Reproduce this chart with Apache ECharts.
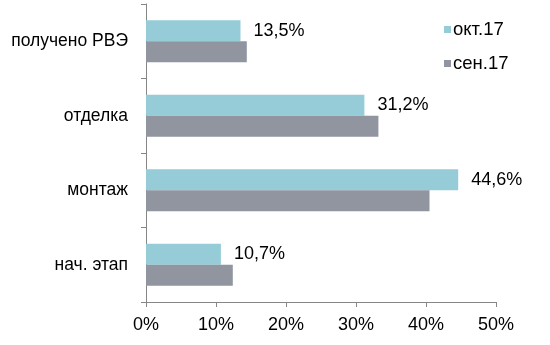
<!DOCTYPE html>
<html>
<head>
<meta charset="utf-8">
<script src="https://cdn.jsdelivr.net/npm/echarts@6/dist/echarts.min.js"></script>
<style>
  html, body { margin: 0; padding: 0; background: #ffffff; }
  #chart { width: 550px; height: 345px; }
</style>
</head>
<body>
<div id="chart"></div>
<script>
// Stage categories, top to bottom
const categories = ['получено РВЭ', 'отделка', 'монтаж', 'нач. этап'];
// Share of objects per stage, %
const octValues = [13.5, 31.2, 44.6, 10.7];
const sepValues = [14.4, 33.2, 40.5, 12.4];
const seriesNames = ['окт.17', 'сен.17'];
const xTicks = [0, 10, 20, 30, 40, 50];

const FONT = '"Liberation Sans", Arial, sans-serif';
const axisGray = '#868686';

const chart = echarts.init(document.getElementById('chart'), null, { renderer: 'canvas' });

chart.setOption({
  animation: false,
  backgroundColor: '#ffffff',
  textStyle: { fontFamily: FONT },
  grid: { left: 146, right: 54, top: 4, bottom: 43, containLabel: false },
  legend: {
    orient: 'vertical',
    left: 439,
    top: 15,
    itemWidth: 7,
    itemHeight: 7,
    itemGap: 15,
    icon: 'rect',
    textStyle: { fontSize: 18.5, color: '#000', fontFamily: FONT, padding: [0, 0, 0, -3] },
    data: seriesNames
  },
  xAxis: {
    type: 'value',
    min: xTicks[0],
    max: xTicks[xTicks.length - 1],
    interval: 10,
    splitLine: { show: false },
    axisLine: { show: true, lineStyle: { color: axisGray, width: 1 } },
    axisTick: { show: true, length: 5, lineStyle: { color: axisGray } },
    axisLabel: {
      fontSize: 18, color: '#000', fontFamily: FONT, margin: 14,
      formatter: v => v + '%'
    }
  },
  yAxis: {
    type: 'category',
    inverse: true,
    data: categories,
    axisLine: { show: true, lineStyle: { color: axisGray, width: 1 } },
    axisTick: { show: true, length: 5, lineStyle: { color: axisGray } },
    axisLabel: { fontSize: 17.5, color: '#000', fontFamily: FONT, margin: 18 }
  },
  series: [
    {
      name: seriesNames[0],
      type: 'bar',
      data: octValues,
      barWidth: 21,
      barGap: '0%',
      itemStyle: { color: '#95CCD8' },
      label: {
        show: true,
        position: 'right',
        distance: 13,
        fontSize: 18,
        color: '#000',
        fontFamily: FONT,
        formatter: p => p.value.toFixed(1).replace('.', ',') + '%'
      }
    },
    {
      name: seriesNames[1],
      type: 'bar',
      data: sepValues,
      barWidth: 21,
      barGap: '0%',
      itemStyle: { color: '#9095A0' }
    }
  ]
});
</script>
</body>
</html>
